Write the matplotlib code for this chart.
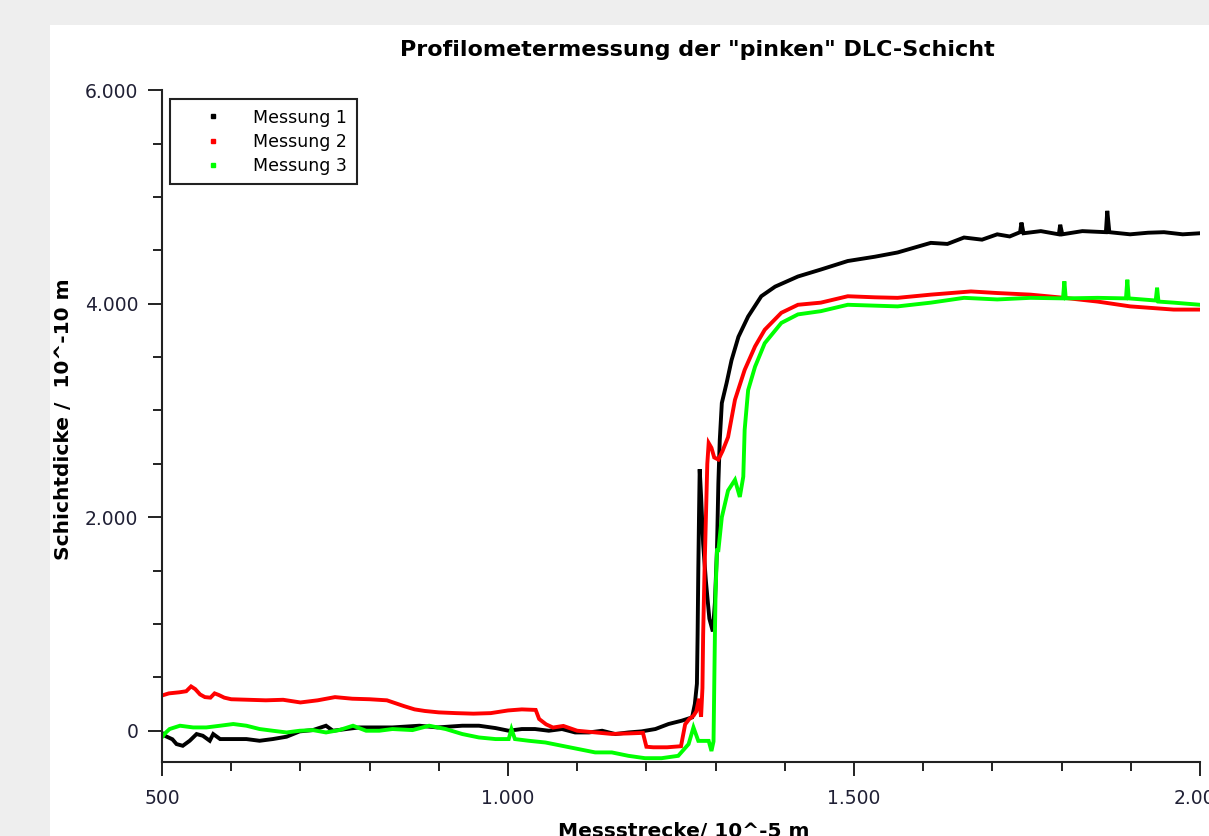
import matplotlib.pyplot as plt
from matplotlib.lines import Line2D
from matplotlib.patches import Rectangle
from matplotlib.ticker import FuncFormatter, MultipleLocator

# Messung 1 (schwarz)
x1 = [500, 505, 515, 521, 530, 540, 550, 559, 569, 574, 584, 603, 622, 641, 660,
      680, 699, 718, 737, 747, 785, 833, 872, 898, 934, 958, 982, 1001, 1020, 1039,
      1059, 1078, 1097, 1117, 1136, 1155, 1174, 1193, 1213, 1232, 1251, 1266, 1270,
      1273, 1274, 1275, 1276, 1277, 1279, 1282, 1286, 1291, 1296, 1299, 1302, 1304,
      1306, 1309, 1316, 1323, 1333, 1347, 1366, 1386, 1419, 1452, 1491, 1530, 1563,
      1611, 1635, 1659, 1685, 1707, 1725, 1740, 1742, 1745, 1770, 1796, 1798, 1801,
      1830, 1864, 1866, 1869, 1899, 1925, 1948, 1975, 2000]
y1 = [-20, -50, -80, -125, -141, -94, -31, -47, -94, -31, -78, -78, -78, -94, -78,
      -56, -6, 6, 47, 0, 31, 31, 47, 31, 47, 47, 25, 0, 16, 16,
      0, 16, -16, -16, 0, -31, -16, -6, 16, 63, 94, 125, 250,
      440, 900, 1500, 2000, 2450, 2200, 1750, 1400, 1050, 930, 1200, 1700, 2320,
      2720, 3070, 3260, 3470, 3690, 3880, 4070, 4160, 4255, 4320, 4400, 4440, 4480,
      4570, 4560, 4620, 4600, 4650, 4630, 4670, 4760, 4660, 4680, 4650, 4740, 4650,
      4680, 4670, 4870, 4670, 4650, 4665, 4670, 4650, 4660]

# Messung 2 (rot)
x2 = [500, 510, 525, 535, 542, 548, 555, 562, 570, 576, 582, 590, 600, 625, 650,
      675, 700, 725, 750, 775, 800, 825, 850, 865, 880, 900, 925, 950, 975, 1000,
      1020, 1040, 1045, 1055, 1065, 1080, 1100, 1125, 1150, 1175, 1195, 1200, 1210,
      1230, 1250, 1256, 1262, 1268, 1272, 1276, 1279, 1281, 1282, 1284, 1286, 1288,
      1290, 1294, 1298, 1304, 1310, 1318, 1328, 1342, 1357, 1371, 1395, 1419, 1452,
      1491, 1530, 1563, 1611, 1669, 1707, 1755, 1804, 1852, 1899, 1962, 2000]
y2 = [330, 350, 360, 370, 415, 390, 340, 315, 310, 350, 335, 310, 295, 290, 285,
      290, 265, 285, 315, 300, 295, 285, 230, 200, 185, 172, 165, 160, 165, 190,
      200, 195, 110, 60, 30, 45, 0, -15, -30, -25, -20, -150, -155,
      -155, -145, 60, 110, 140, 180, 300, 130, 400, 900, 1500, 2000, 2500,
      2695, 2650, 2560, 2540, 2620, 2750, 3100, 3380, 3600, 3756, 3915, 3990, 4010,
      4070, 4060, 4055, 4085, 4115, 4100, 4085, 4055, 4020, 3975, 3945, 3945]

# Messung 3 (gruen)
x3 = [500, 505, 511, 526, 545, 564, 584, 603, 622, 641, 660, 680, 699, 718, 737,
      756, 776, 795, 814, 833, 862, 886, 910, 934, 958, 982, 1001, 1005, 1010, 1030,
      1054, 1078, 1102, 1126, 1150, 1174, 1198, 1222, 1246, 1261, 1268, 1275, 1290,
      1294, 1297, 1298, 1299, 1300, 1302, 1304, 1309, 1318, 1328, 1335, 1340, 1342,
      1347, 1357, 1371, 1395, 1419, 1452, 1491, 1563, 1611, 1659, 1707, 1755, 1802,
      1804, 1806, 1852, 1893, 1895, 1897, 1936, 1938, 1940, 1962, 2000]
y3 = [-60, -20, 16, 47, 31, 31, 47, 63, 47, 16, 0, -16, 0, 6, -16,
      6, 47, 0, 0, 16, 6, 47, 16, -31, -63, -78, -78, 16, -78, -94,
      -110, -141, -172, -203, -203, -235, -257, -257, -235, -125, 31, -95, -95,
      -190, -100, 400, 900, 1300, 1690, 1690, 2000, 2250, 2350, 2190, 2380, 2820,
      3190, 3410, 3630, 3820, 3900, 3930, 3990, 3975, 4010, 4055, 4040, 4055, 4050,
      4210, 4050, 4055, 4050, 4225, 4050, 4030, 4150, 4020, 4010, 3990]

labels = ["Messung 1", "Messung 2", "Messung 3"]
colors = ["#000000", "#ff0000", "#00ff00"]

W, H = 1209, 836
fig = plt.figure(figsize=(W / 100, H / 100), dpi=100, facecolor="#eeeeee")

# weisses Panel (hinter allem)
fig.patches.append(Rectangle((50 / W, 0), 1 - 50 / W, 1 - 25 / H,
                             transform=fig.transFigure, facecolor="white",
                             edgecolor="none", zorder=-10))

ax = fig.add_axes([162 / W, 74.3 / H, 1038 / W, 671.5 / H])
ax.set_facecolor("none")
ax.set_zorder(5)

for xs, ys, c in zip([x1, x2, x3], [y1, y2, y3], colors):
    ax.plot(xs, ys, color=c, lw=2.8, solid_joinstyle="miter")

ax.set_xlim(500, 2000)
ax.set_ylim(-290, 6000)

for s in ["top", "right"]:
    ax.spines[s].set_visible(False)
for s in ["left", "bottom"]:
    ax.spines[s].set_linewidth(1.5)
    ax.spines[s].set_color("#222222")

ax.xaxis.set_major_locator(MultipleLocator(500))
ax.xaxis.set_minor_locator(MultipleLocator(100))
ax.yaxis.set_major_locator(MultipleLocator(2000))
ax.yaxis.set_minor_locator(MultipleLocator(500))

fmt = FuncFormatter(lambda v, p: f"{int(round(v)):,}".replace(",", "."))
ax.xaxis.set_major_formatter(fmt)
ax.yaxis.set_major_formatter(fmt)

ax.tick_params(which="major", direction="out", length=10, width=1.4,
               color="#222222", labelsize=13.5, labelcolor="#202035")
ax.tick_params(which="minor", direction="out", length=6.5, width=1.4,
               color="#222222")
ax.tick_params(axis="x", which="major", pad=10)
ax.tick_params(axis="y", which="major", pad=7)

handles = [Line2D([], [], marker="s", ls="none", color=c, markersize=2.5)
           for c in colors]
leg = ax.legend(handles, labels, loc="upper left",
                bbox_to_anchor=(8 / 1038, 1 - 8.8 / 671.5), borderaxespad=0,
                fontsize=12.5, fancybox=False, framealpha=1, borderpad=0.55,
                handlelength=3.8, handletextpad=0.45, labelspacing=0.35)
leg.get_frame().set_edgecolor("#222222")
leg.get_frame().set_linewidth(1.5)

fig.text(697 / W, 1 - 40 / H, 'Profilometermessung der "pinken" DLC-Schicht',
         ha="center", va="top", fontsize=16, fontweight="bold")
fig.text(64 / W, 1 - 419 / H, "Schichtdicke /  10^-10 m", rotation=90,
         ha="center", va="center", fontsize=14.5, fontweight="bold")
fig.text(684 / W, 1 - 822 / H, "Messstrecke/ 10^-5 m",
         ha="center", va="top", fontsize=14.5, fontweight="bold")

fig.savefig("out.png", dpi=100, facecolor=fig.get_facecolor())
